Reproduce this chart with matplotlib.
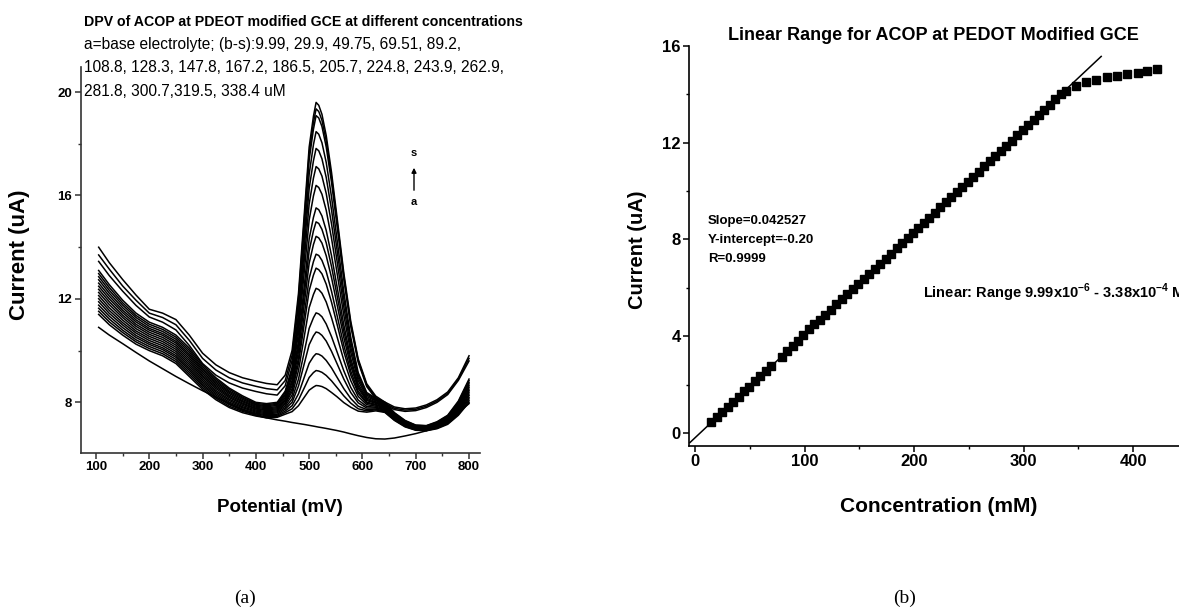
import matplotlib.pyplot as plt
import numpy as np

plt.rcParams['font.family'] = ['Liberation Sans', 'DejaVu Sans']
plt.rcParams['mathtext.fontset'] = 'custom'
plt.rcParams['mathtext.bf'] = 'Liberation Sans:bold'
plt.rcParams['mathtext.rm'] = 'Liberation Sans'

# ---------------- (a) DPV curves, current (uA) vs potential (mV) ----------------
potential = [105, 125, 150, 175, 200, 225, 250, 275, 300, 325, 350, 375, 400, 420, 440,
             455, 468, 480, 492, 500, 508, 513, 518, 524, 532, 542, 552, 565, 578, 592,
             608, 625, 642, 660, 680, 700, 720, 740, 760, 780, 800]

curve_a = [10.9, 10.6, 10.27, 9.93, 9.6, 9.3, 9.0, 8.72, 8.45, 8.2, 7.95, 7.72, 7.5, 7.4, 7.32,
           7.27, 7.22, 7.18, 7.14, 7.11, 7.08, 7.06, 7.04, 7.02, 6.99, 6.95, 6.91, 6.85, 6.78, 6.71,
           6.64, 6.59, 6.58, 6.62, 6.7, 6.79, 6.9, 7.05, 7.3, 7.6, 7.95]
curve_b = [11.4, 11.0, 10.6, 10.25, 10.0, 9.8, 9.5, 9.0, 8.5, 8.1, 7.8, 7.6, 7.47, 7.4, 7.42,
           7.54, 7.64, 7.87, 8.23, 8.47, 8.59, 8.65, 8.64, 8.61, 8.53, 8.38, 8.22, 7.99, 7.81, 7.66,
           7.62, 7.67, 7.61, 7.3, 7.05, 6.92, 6.9, 6.98, 7.15, 7.5, 8.0]
curve_c = [11.52, 11.11, 10.70, 10.34, 10.08, 9.88, 9.58, 9.08, 8.57, 8.16, 7.85, 7.65, 7.51, 7.44, 7.46,
           7.60, 7.75, 8.09, 8.61, 8.96, 9.15, 9.23, 9.21, 9.16, 9.04, 8.83, 8.58, 8.25, 7.97, 7.75,
           7.67, 7.71, 7.63, 7.32, 7.07, 6.93, 6.91, 7.00, 7.18, 7.54, 8.06]
curve_d = [11.64, 11.22, 10.79, 10.42, 10.16, 9.96, 9.66, 9.16, 8.64, 8.22, 7.91, 7.69, 7.55, 7.48, 7.50,
           7.66, 7.87, 8.33, 9.04, 9.51, 9.77, 9.88, 9.86, 9.79, 9.62, 9.33, 8.98, 8.53, 8.15, 7.85,
           7.72, 7.74, 7.66, 7.34, 7.09, 6.95, 6.93, 7.02, 7.20, 7.58, 8.13]
curve_e = [11.76, 11.33, 10.89, 10.51, 10.24, 10.04, 9.74, 9.24, 8.70, 8.28, 7.96, 7.74, 7.58, 7.52, 7.54,
           7.73, 8.00, 8.63, 9.59, 10.23, 10.57, 10.72, 10.69, 10.59, 10.37, 9.97, 9.51, 8.90, 8.38, 7.98,
           7.78, 7.78, 7.69, 7.36, 7.10, 6.96, 6.94, 7.04, 7.23, 7.62, 8.19]
curve_f = [11.89, 11.44, 10.99, 10.59, 10.31, 10.11, 9.81, 9.31, 8.77, 8.34, 8.01, 7.79, 7.62, 7.56, 7.59,
           7.79, 8.13, 8.90, 10.07, 10.86, 11.27, 11.46, 11.42, 11.31, 11.03, 10.54, 9.97, 9.22, 8.58, 8.09,
           7.84, 7.81, 7.72, 7.39, 7.12, 6.98, 6.96, 7.06, 7.25, 7.66, 8.26]
curve_g = [12.01, 11.55, 11.08, 10.68, 10.39, 10.19, 9.89, 9.39, 8.84, 8.40, 8.07, 7.83, 7.66, 7.60, 7.63,
           7.86, 8.28, 9.23, 10.69, 11.66, 12.17, 12.41, 12.36, 12.22, 11.88, 11.27, 10.56, 9.63, 8.84, 8.23,
           7.91, 7.85, 7.75, 7.41, 7.14, 6.99, 6.97, 7.08, 7.28, 7.70, 8.32]
curve_h = [12.13, 11.66, 11.18, 10.76, 10.47, 10.27, 9.97, 9.47, 8.91, 8.46, 8.12, 7.88, 7.70, 7.64, 7.67,
           7.93, 8.42, 9.51, 11.20, 12.32, 12.92, 13.19, 13.13, 12.97, 12.57, 11.87, 11.05, 9.97, 9.06, 8.35,
           7.97, 7.89, 7.78, 7.43, 7.16, 7.01, 6.99, 7.10, 7.30, 7.74, 8.39]
curve_i = [12.25, 11.78, 11.28, 10.85, 10.55, 10.35, 10.05, 9.55, 8.98, 8.53, 8.18, 7.93, 7.74, 7.68, 7.71,
           7.99, 8.52, 9.72, 11.56, 12.79, 13.44, 13.73, 13.68, 13.49, 13.06, 12.29, 11.39, 10.21, 9.21, 8.43,
           8.01, 7.92, 7.81, 7.45, 7.18, 7.02, 7.00, 7.12, 7.33, 7.78, 8.45]
curve_j = [12.37, 11.89, 11.37, 10.94, 10.63, 10.43, 10.13, 9.63, 9.04, 8.59, 8.23, 7.97, 7.77, 7.71, 7.75,
           8.05, 8.64, 9.97, 12.01, 13.38, 14.10, 14.42, 14.36, 14.16, 13.67, 12.82, 11.82, 10.51, 9.40, 8.54,
           8.07, 7.96, 7.84, 7.47, 7.19, 7.03, 7.01, 7.13, 7.35, 7.81, 8.51]
curve_k = [12.49, 12.00, 11.47, 11.02, 10.71, 10.51, 10.21, 9.71, 9.11, 8.65, 8.28, 8.02, 7.81, 7.75, 7.79,
           8.11, 8.75, 10.18, 12.39, 13.86, 14.63, 14.98, 14.92, 14.69, 14.17, 13.25, 12.17, 10.76, 9.55, 8.62,
           8.11, 7.99, 7.87, 7.49, 7.21, 7.05, 7.03, 7.15, 7.38, 7.85, 8.58]
curve_l = [12.61, 12.11, 11.56, 11.11, 10.79, 10.59, 10.29, 9.79, 9.18, 8.71, 8.34, 8.06, 7.85, 7.79, 7.83,
           8.17, 8.85, 10.38, 12.74, 14.32, 15.15, 15.52, 15.45, 15.21, 14.65, 13.67, 12.51, 11.00, 9.70, 8.71,
           8.16, 8.02, 7.89, 7.51, 7.23, 7.06, 7.04, 7.17, 7.40, 7.89, 8.64]
curve_m = [12.74, 12.22, 11.66, 11.19, 10.86, 10.66, 10.36, 9.86, 9.25, 8.77, 8.39, 8.11, 7.89, 7.83, 7.88,
           8.24, 8.99, 10.69, 13.31, 15.05, 15.98, 16.39, 16.31, 16.05, 15.43, 14.34, 13.05, 11.37, 9.94, 8.84,
           8.22, 8.06, 7.92, 7.54, 7.25, 7.08, 7.06, 7.19, 7.43, 7.93, 8.71]
curve_n = [12.86, 12.33, 11.76, 11.28, 10.94, 10.74, 10.44, 9.94, 9.31, 8.83, 8.44, 8.16, 7.92, 7.87, 7.92,
           8.30, 9.12, 10.96, 13.79, 15.67, 16.67, 17.12, 17.03, 16.75, 16.08, 14.90, 13.51, 11.69, 10.14, 8.95,
           8.28, 8.09, 7.95, 7.56, 7.26, 7.09, 7.07, 7.21, 7.45, 7.97, 8.77]
curve_o = [12.98, 12.44, 11.85, 11.36, 11.02, 10.82, 10.52, 10.02, 9.38, 8.89, 8.50, 8.20, 7.96, 7.91, 7.96,
           8.37, 9.24, 11.21, 14.25, 16.27, 17.34, 17.82, 17.73, 17.42, 16.70, 15.44, 13.94, 12.00, 10.34, 9.05,
           8.33, 8.13, 7.98, 7.58, 7.28, 7.11, 7.09, 7.23, 7.48, 8.01, 8.84]
curve_p = [13.10, 12.55, 11.95, 11.45, 11.10, 10.90, 10.60, 10.10, 9.45, 8.95, 8.55, 8.25, 8.00, 7.95, 8.00,
           8.43, 9.36, 11.45, 14.67, 16.82, 17.96, 18.47, 18.37, 18.04, 17.28, 15.94, 14.35, 12.28, 10.52, 9.15,
           8.38, 8.16, 8.01, 7.60, 7.30, 7.12, 7.10, 7.25, 7.50, 8.05, 8.90]
curve_q = [13.45, 12.90, 12.30, 11.75, 11.30, 11.10, 10.80, 10.20, 9.50, 9.05, 8.75, 8.55, 8.42, 8.33, 8.28,
           8.64, 9.62, 11.79, 15.14, 17.38, 18.56, 19.09, 19.00, 18.67, 17.88, 16.51, 14.88, 12.76, 10.95, 9.55,
           8.61, 8.14, 7.91, 7.72, 7.65, 7.68, 7.80, 8.00, 8.30, 8.85, 9.60]
curve_r = [13.70, 13.15, 12.50, 11.95, 11.45, 11.28, 11.00, 10.40, 9.70, 9.25, 8.95, 8.75, 8.62, 8.53, 8.48,
           8.84, 9.82, 12.01, 15.38, 17.63, 18.81, 19.35, 19.25, 18.91, 18.11, 16.70, 15.05, 12.89, 11.04, 9.62,
           8.66, 8.19, 7.96, 7.77, 7.70, 7.73, 7.85, 8.05, 8.35, 8.90, 9.70]
curve_s = [14.00, 13.40, 12.75, 12.15, 11.60, 11.45, 11.20, 10.60, 9.90, 9.45, 9.15, 8.95, 8.82, 8.73, 8.68,
           9.05, 10.01, 12.22, 15.61, 17.87, 19.06, 19.60, 19.49, 19.14, 18.32, 16.89, 15.21, 13.01, 11.14, 9.68,
           8.72, 8.24, 8.01, 7.82, 7.75, 7.78, 7.90, 8.10, 8.40, 8.95, 9.80]

curves = [curve_a, curve_b, curve_c, curve_d, curve_e, curve_f, curve_g, curve_h, curve_i,
          curve_j, curve_k, curve_l, curve_m, curve_n, curve_o, curve_p, curve_q, curve_r, curve_s]

title_a = ['DPV of ACOP at PDEOT modified GCE at different concentrations',
           'a=base electrolyte; (b-s):9.99, 29.9, 49.75, 69.51, 89.2,',
           '108.8, 128.3, 147.8, 167.2, 186.5, 205.7, 224.8, 243.9, 262.9,',
           '281.8, 300.7,319.5, 338.4 uM']

# ---------------- (b) calibration plot ----------------
conc = [15, 20, 25, 30, 35, 40, 45, 49.5, 54.5, 59.5, 64.5, 69.5, 79, 84, 89, 94, 99,
        104, 109, 114, 119, 124, 129, 134, 139, 144, 149, 154, 159, 164, 169, 174, 179,
        184, 189, 194, 199, 204, 209, 214, 219, 224, 229, 234, 239, 244, 249, 254, 259,
        264, 269, 274, 279, 284, 289, 294, 299, 304, 309, 314, 319, 324, 329, 334, 339,
        347.6, 357, 366.4, 375.8, 385.3, 394.7, 404.1, 412.5, 422]
current = [0.45, 0.65, 0.87, 1.08, 1.30, 1.50, 1.73, 1.91, 2.13, 2.35, 2.55, 2.78, 3.12,
           3.38, 3.60, 3.82, 4.05, 4.30, 4.50, 4.68, 4.88, 5.10, 5.32, 5.52, 5.74, 5.95,
           6.14, 6.35, 6.56, 6.77, 6.99, 7.20, 7.41, 7.63, 7.84, 8.05, 8.26, 8.48, 8.69,
           8.90, 9.11, 9.33, 9.54, 9.75, 9.96, 10.18, 10.39, 10.60, 10.81, 11.03, 11.24,
           11.45, 11.66, 11.88, 12.09, 12.30, 12.52, 12.73, 12.94, 13.15, 13.37, 13.58,
           13.79, 14.00, 14.12,
           14.33, 14.50, 14.61, 14.71, 14.75, 14.85, 14.89, 14.96, 15.05]
fit_slope = 0.042527
fit_intercept = -0.20
fit_span = [-4.7, 370.8]

W, H = 1179, 614
fig = plt.figure(figsize=(W / 100, H / 100), dpi=100)


def px(x, y):
    return x / W, 1 - y / H


def style_axes(ax, size, col):
    for side in ['top', 'right']:
        ax.spines[side].set_visible(False)
    for side in ['left', 'bottom']:
        ax.spines[side].set_linewidth(1.2)
        ax.spines[side].set_color(col)
    ax.tick_params(which='major', direction='out', length=4, width=1.1, pad=2,
                   labelsize=size, color=col)
    ax.tick_params(which='minor', direction='out', length=2.5, width=1.0, color=col)
    for lab in ax.get_xticklabels() + ax.get_yticklabels():
        lab.set_fontweight('bold')


# panel (a)
ax1 = fig.add_axes([80.5 / W, 1 - 453 / H, (480 - 80.5) / W, (453 - 67) / H])
for c in curves:
    ax1.plot(potential, c, color='black', lw=1.1)
ax1.set_xlim(70.9, 820.6)
ax1.set_ylim(6.04, 20.97)
ax1.set_xticks(range(100, 801, 100))
ax1.set_xticks(range(150, 800, 100), minor=True)
ax1.set_yticks([8, 12, 16, 20])
ax1.set_yticks([10, 14, 18], minor=True)
style_axes(ax1, 9.5, '#333333')

for k, line in enumerate(title_a):
    fig.text(*px(84, 22 + 23 * k), line, va='center',
             fontsize=10.2 if k == 0 else 11.2,
             fontweight='bold' if k == 0 else 'normal')

fig.text(*px(20, 255), 'Current (uA)', rotation=90, fontsize=16, fontweight='bold',
         ha='center', va='center')
fig.text(*px(280, 508), 'Potential (mV)', fontsize=13.5, fontweight='bold',
         ha='center', va='center')
fig.text(*px(414, 153), 's', fontsize=8, fontweight='bold', ha='center', va='center')
fig.text(*px(414, 202), 'a', fontsize=8, fontweight='bold', ha='center', va='center')
ax1.annotate('', xy=px(414, 165), xytext=px(414, 193), xycoords='figure fraction',
             textcoords='figure fraction',
             arrowprops=dict(arrowstyle='-|>', color='black', lw=1, mutation_scale=7))

# panel (b)
ax2 = fig.add_axes([689 / W, 1 - 446 / H, (1200 - 689) / W, (446 - 46) / H])
ax2.plot(conc, current, 's', color='black', ms=5.5, clip_on=False)
fx = np.array(fit_span)
ax2.plot(fx, fit_slope * fx + fit_intercept, color='black', lw=1.1, clip_on=False)
ax2.set_xlim(-5.5, 461)
ax2.set_ylim(-0.54, 16)
ax2.set_xticks([0, 100, 200, 300, 400])
ax2.set_xticks([50, 150, 250, 350, 450], minor=True)
ax2.set_yticks([0, 4, 8, 12, 16])
ax2.set_yticks([2, 6, 10, 14], minor=True)
style_axes(ax2, 12, 'black')

fig.text(*px(933, 36), 'Linear Range for ACOP at PEDOT Modified GCE', fontsize=13,
         fontweight='bold', ha='center', va='center')
fig.text(*px(638, 250), 'Current (uA)', rotation=90, fontsize=14.5, fontweight='bold',
         ha='center', va='center')
fig.text(*px(939, 507), 'Concentration (mM)', fontsize=15, fontweight='bold',
         ha='center', va='center')
for k, line in enumerate(['Slope=0.042527', 'Y-intercept=-0.20', 'R=0.9999']):
    fig.text(*px(708, 221 + 19 * k), line, fontsize=9.5, fontweight='bold', va='center')
fig.text(*px(923, 293), r'Linear: Range 9.99x10$^{\mathbf{-6}}$ - 3.38x10$^{\mathbf{-4}}$ M',
         fontsize=10.5, fontweight='bold', va='center')

fig.text(*px(245, 598), '(a)', fontsize=14, family='Liberation Serif', ha='center', va='center')
fig.text(*px(905, 598), '(b)', fontsize=14, family='Liberation Serif', ha='center', va='center')

fig.savefig('out.png', dpi=100)
